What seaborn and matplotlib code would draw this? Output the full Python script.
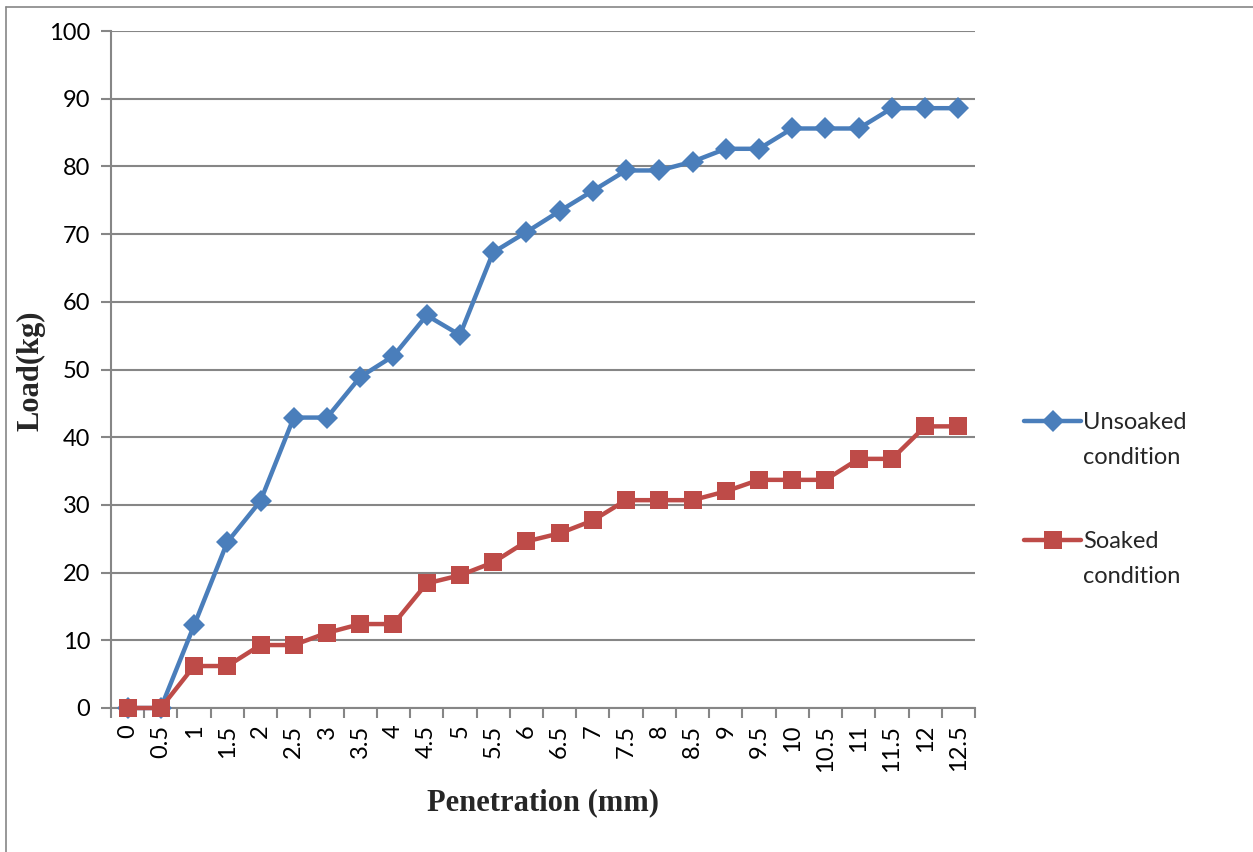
import matplotlib
matplotlib.use("Agg")
import matplotlib.pyplot as plt
from matplotlib.lines import Line2D
import seaborn as sns
import pandas as pd
import numpy as np

penetration = ["0", "0.5", "1", "1.5", "2", "2.5", "3", "3.5", "4", "4.5", "5", "5.5", "6",
               "6.5", "7", "7.5", "8", "8.5", "9", "9.5", "10", "10.5", "11", "11.5", "12", "12.5"]
unsoaked = [0, 0, 12.2, 24.5, 30.6, 42.9, 42.9, 48.9, 52.0, 58.0, 55.1, 67.3, 70.3,
            73.4, 76.4, 79.4, 79.4, 80.7, 82.6, 82.6, 85.6, 85.6, 85.6, 88.6, 88.6, 88.6]
soaked = [0, 0, 6.2, 6.2, 9.3, 9.3, 11.1, 12.4, 12.4, 18.4, 19.6, 21.5, 24.6,
          25.8, 27.7, 30.7, 30.7, 30.7, 32.0, 33.7, 33.7, 33.7, 36.8, 36.8, 41.6, 41.6]
series_names = ["Unsoaked condition", "Soaked condition"]
y_ticks = [0, 10, 20, 30, 40, 50, 60, 70, 80, 90, 100]

blue = "#4A7EBB"
red = "#BE4B48"
grid_c = "#868686"

df = pd.DataFrame({
    "Penetration": penetration * 2,
    "Load": unsoaked + soaked,
    "Series": [series_names[0]] * len(penetration) + [series_names[1]] * len(penetration),
})

sns.set_style("white")
plt.rcParams["font.family"] = ["Lato", "DejaVu Sans"]

fig = plt.figure(figsize=(12.53, 8.52), dpi=100)
ax = fig.add_axes([111 / 1253, 1 - 708 / 852, (975 - 111) / 1253, (708 - 31) / 852])

sns.pointplot(data=df, x="Penetration", y="Load", hue="Series", order=penetration,
              hue_order=series_names, palette=[blue, red], markers=["D", "s"],
              linestyles=["-", "-"], errorbar=None, ax=ax, legend=False,
              markersize=10, linewidth=3.2)
for line in ax.lines:
    if line.get_marker() == "s":
        line.set_markersize(12.5)
        line.set_zorder(4)
    elif line.get_marker() == "D":
        line.set_markersize(11)
        line.set_zorder(3)
    line.set_markeredgewidth(0)
    line.set_solid_joinstyle("miter")
    line.set_clip_on(False)

ax.set_xlim(-0.5, len(penetration) - 0.5)
ax.set_ylim(0, 100)
ax.set_yticks(y_ticks)
ax.set_yticklabels([str(v) for v in y_ticks], fontsize=17, color="black")
ax.yaxis.grid(True, color=grid_c, linewidth=1.5)
ax.set_axisbelow(True)
ax.tick_params(axis="y", direction="out", length=7, width=1.5, color=grid_c, pad=8, left=True)

ax.set_xticks(range(len(penetration)))
ax.set_xticklabels(penetration, rotation=90, fontsize=17, color="black")
ax.set_xticks(np.arange(-0.5, len(penetration), 1.0), minor=True)
ax.tick_params(axis="x", which="major", length=0, pad=12)
ax.tick_params(axis="x", which="minor", direction="out", length=7, width=1.5, color=grid_c, bottom=True)

for s in ["top", "right"]:
    ax.spines[s].set_visible(False)
for s in ["left", "bottom"]:
    ax.spines[s].set_color(grid_c)
    ax.spines[s].set_linewidth(1.5)

ax.set_xlabel("")
ax.set_ylabel("")
fig.text(543 / 1253, 1 - 803 / 852, "Penetration (mm)", family=["Liberation Serif"],
         fontweight="bold", fontsize=22, ha="center", va="center")
fig.text(31 / 1253, 1 - 371 / 852, "Load(kg)", family=["Liberation Serif"],
         fontweight="bold", fontsize=22, ha="center", va="center", rotation=90)

# legend
handles = [Line2D([], [], color=blue, marker="D", markersize=11, linewidth=3.2, markeredgewidth=0),
           Line2D([], [], color=red, marker="s", markersize=12.5, linewidth=3.2, markeredgewidth=0)]
leg = fig.legend(handles, ["Unsoaked", "Soaked"], loc="upper left",
                 bbox_to_anchor=(1003 / 1253, 1 - 391 / 852), frameon=False,
                 fontsize=17, handlelength=2.4, handletextpad=0.1, labelspacing=4.15)
fig.canvas.draw()
r = fig.canvas.get_renderer()
for t in leg.get_texts():
    bb = t.get_window_extent(r)
    fig.text(bb.x0 / fig.bbox.width, (bb.y0 - 35) / fig.bbox.height, "condition",
             fontsize=17, ha="left", va="bottom")

# outer frame lines (top and left)
fig.add_artist(Line2D([6 / 1253, 6 / 1253], [0, 1 - 7 / 852], transform=fig.transFigure,
                      color=grid_c, linewidth=1.2))
fig.add_artist(Line2D([6 / 1253, 1], [1 - 7 / 852, 1 - 7 / 852], transform=fig.transFigure,
                      color=grid_c, linewidth=1.2))

fig.savefig("out.png", dpi=100)
